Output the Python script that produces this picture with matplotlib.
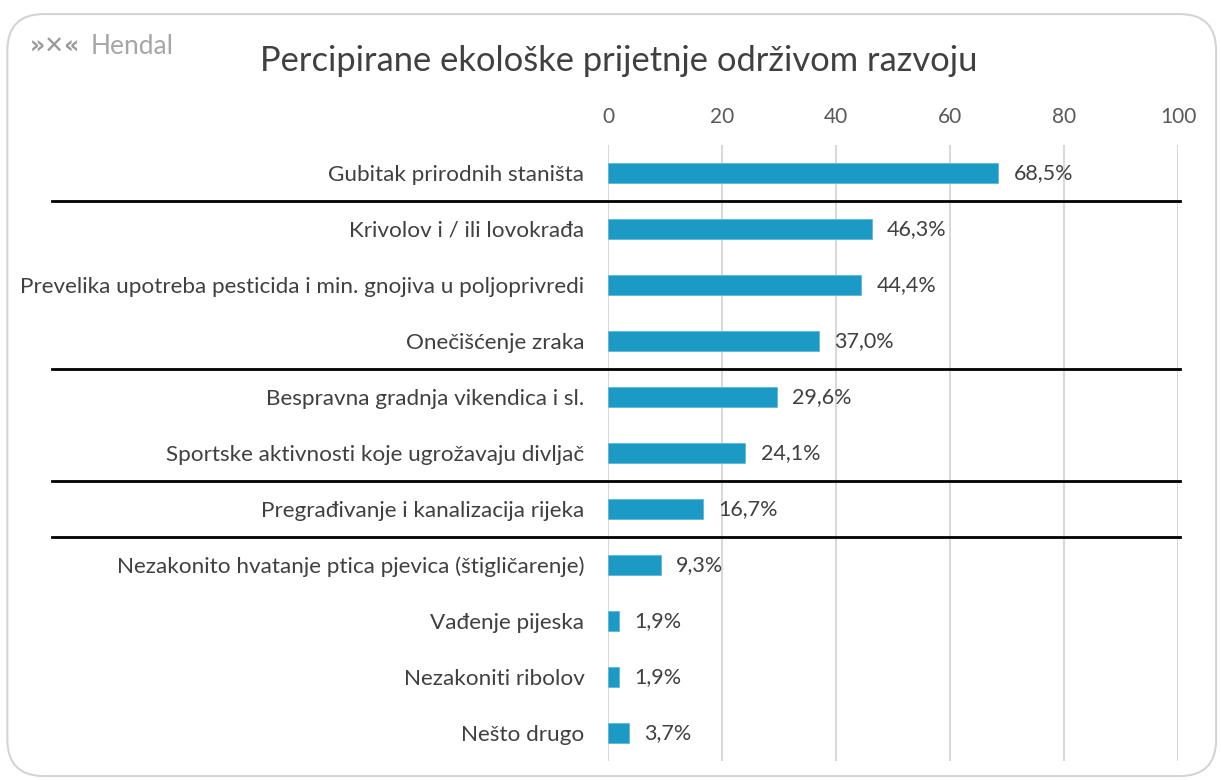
import matplotlib.pyplot as plt
from matplotlib.patches import FancyBboxPatch
from matplotlib.transforms import blended_transform_factory

plt.rcParams['font.family'] = ['Lato', 'DejaVu Sans']

categories = [
    "Gubitak prirodnih staništa",
    "Krivolov i / ili lovokrađa",
    "Prevelika upotreba pesticida i min. gnojiva u poljoprivredi",
    "Onečišćenje zraka",
    "Bespravna gradnja vikendica i sl.",
    "Sportske aktivnosti koje ugrožavaju divljač",
    "Pregrađivanje i kanalizacija rijeka",
    "Nezakonito hvatanje ptica pjevica (štigličarenje)",
    "Vađenje pijeska",
    "Nezakoniti ribolov",
    "Nešto drugo",
]
values = [68.5, 46.3, 44.4, 37.0, 29.6, 24.1, 16.7, 9.3, 1.9, 1.9, 3.7]
value_labels = ["68,5%", "46,3%", "44,4%", "37,0%", "29,6%", "24,1%",
                "16,7%", "9,3%", "1,9%", "1,9%", "3,7%"]
xticks = [0, 20, 40, 60, 80, 100]
# separators drawn after these row indices
separators_after = [0, 3, 5, 6]

fig = plt.figure(figsize=(12.21, 7.8), dpi=100)

# rounded frame
frame = FancyBboxPatch((0.006, 0.005), 0.99, 0.977, boxstyle="round,pad=0,rounding_size=0.03",
                       transform=fig.transFigure, facecolor="none", edgecolor="#d4d4d4",
                       linewidth=1.5, mutation_aspect=1221 / 780, zorder=-1)
fig.patches.append(frame)

ax = fig.add_axes([0.498, 0.0244, 0.4668, 0.7897])
ypos = list(range(len(categories)))
ax.barh(ypos, values, height=0.36, color="#1b9ac6", edgecolor="#5fb8da", linewidth=0.6, zorder=3)
ax.set_ylim(len(categories) - 0.5, -0.5)
ax.set_xlim(0, 100)

for y, v, lab in zip(ypos, values, value_labels):
    ax.annotate(lab, (v, y), xytext=(11, 0), textcoords="offset points",
                va="center", ha="left", fontsize=15.5, color="#404040")

ax.set_yticks(ypos)
ax.set_yticklabels(categories, fontsize=16.2, color="#404040")
ax.xaxis.tick_top()
ax.set_xticks(xticks)
ax.set_xticklabels([str(t) for t in xticks], fontsize=15, color="#595959")
ax.tick_params(axis="both", length=0)
ax.tick_params(axis="y", pad=17)
ax.tick_params(axis="x", pad=13)
ax.grid(axis="x", color="#d9d9d9", linewidth=1.5, zorder=0)
for s in ax.spines.values():
    s.set_visible(False)

trans = blended_transform_factory(ax.transAxes, ax.transData)
for i in separators_after:
    ax.plot([-0.975, 1.004], [i + 0.5, i + 0.5], color="black", linewidth=2,
            transform=trans, clip_on=False, zorder=4)

fig.text(0.213, 0.922, "Percipirane ekološke prijetnje održivom razvoju",
         fontsize=24.8, color="#404040", va="center", ha="left")

# logo
fig.text(0.024, 0.94, "»✕«", fontsize=17, color="#9a9a9a", fontweight="bold",
         va="center", ha="left", family=["DejaVu Sans"])
fig.text(0.074, 0.94, "Hendal", fontsize=19, color="#a6a6a6", va="center", ha="left")

fig.savefig("out.png", dpi=100)
